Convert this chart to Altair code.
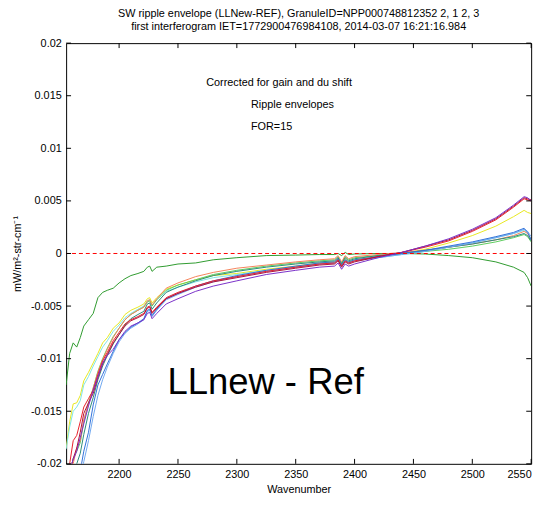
import altair as alt
import pandas as pd

# ---- data ----
WAVENUMBER = [2155, 2158, 2161, 2164, 2167, 2170, 2174, 2178, 2182, 2186,
              2190, 2195, 2200, 2205, 2210, 2216, 2221, 2224, 2226, 2228,
              2232, 2240, 2250, 2265, 2280, 2300, 2325, 2350, 2370, 2383,
              2386, 2389, 2392, 2395, 2400, 2420, 2440, 2460, 2480, 2500,
              2520, 2535, 2544, 2547, 2550]

DARK_GREEN = [-0.0125, -0.0095, -0.0085, -0.0089, -0.0080, -0.0069, -0.0063, -0.0057, -0.0042, -0.0037,
              -0.0035, -0.0033, -0.0028, -0.0024, -0.0021, -0.0019, -0.0017, -0.0013, -0.0012, -0.0017,
              -0.0013, -0.0012, -0.0010, -0.0009, -0.0006, -0.0004, -0.0002, -0.00015, -0.0001, -0.0001,
              0.0000, -0.0002, 0.0001, -0.0001, -0.00005, 0.0000, 0.0000, -0.00005, -0.0002, -0.0004,
              -0.0008, -0.0013, -0.0018, -0.0023, -0.0031]
YELLOW = [-0.0185, -0.0160, -0.0143, -0.0142, -0.0135, -0.0121, -0.0113, -0.0104, -0.0095, -0.0085,
          -0.0080, -0.0071, -0.0066, -0.0058, -0.0054, -0.0051, -0.0048, -0.0043, -0.0042, -0.0047,
          -0.0042, -0.0034, -0.0030, -0.0025, -0.0021, -0.0019, -0.0015, -0.0012, -0.0009, -0.0008,
          -0.0005, -0.0011, -0.0005, -0.0008, -0.0006, -0.0003, 0.0000, 0.0004, 0.0010, 0.0017,
          0.0026, 0.0035, 0.0041, 0.0039, 0.0038]
CYAN = [-0.0186, -0.0165, -0.0150, -0.0146, -0.0140, -0.0125, -0.0117, -0.0107, -0.0098, -0.0089,
        -0.0083, -0.0074, -0.0068, -0.0061, -0.0057, -0.0053, -0.0050, -0.0045, -0.0044, -0.0049,
        -0.0044, -0.0036, -0.0032, -0.0027, -0.0023, -0.0020, -0.0016, -0.0013, -0.0010, -0.0009,
        -0.0006, -0.0012, -0.0006, -0.0009, -0.0007, -0.0004, -0.0001, 0.0002, 0.0006, 0.0010,
        0.0015, 0.0019, 0.0022, 0.0019, 0.0014]
LIGHT_GREEN = [-0.0210, -0.0210, -0.0195, -0.0188, -0.0180, -0.0160, -0.0142, -0.0128, -0.0112, -0.0100,
               -0.0090, -0.0079, -0.0071, -0.0063, -0.0058, -0.0054, -0.0051, -0.0046, -0.0045, -0.0050,
               -0.0044, -0.0035, -0.0030, -0.0025, -0.0020, -0.0016, -0.0012, -0.0009, -0.0007, -0.0006,
               -0.0003, -0.0009, -0.0003, -0.0006, -0.0004, -0.0002, 0.0000, 0.0002, 0.0004, 0.0007,
               0.0011, 0.0015, 0.0018, 0.0016, 0.0011]
ORANGE = [-0.0220, -0.0220, -0.0200, -0.0185, -0.0178, -0.0158, -0.0143, -0.0128, -0.0113, -0.0101,
          -0.0091, -0.0080, -0.0071, -0.0063, -0.0058, -0.0054, -0.0051, -0.0045, -0.0044, -0.0049,
          -0.0043, -0.0033, -0.0028, -0.0022, -0.0018, -0.0014, -0.0011, -0.0008, -0.0006, -0.0005,
          -0.0002, -0.0008, -0.0002, -0.0005, -0.0003, -0.0001, 0.0001, 0.0003, 0.0006, 0.0009,
          0.0013, 0.0017, 0.0021, 0.0019, 0.0013]
RED = [-0.0210, -0.0200, -0.0178, -0.0173, -0.0160, -0.0146, -0.0138, -0.0130, -0.0115, -0.0102,
       -0.0094, -0.0083, -0.0075, -0.0067, -0.0063, -0.0060, -0.0057, -0.0051, -0.0050, -0.0056,
       -0.0051, -0.0042, -0.0037, -0.0031, -0.0026, -0.0022, -0.0017, -0.0013, -0.0010, -0.0009,
       -0.0006, -0.0012, -0.0007, -0.0009, -0.0007, -0.0003, 0.0001, 0.0006, 0.0012, 0.0021,
       0.0032, 0.0044, 0.0052, 0.0051, 0.0050]
DARK_RED = [-0.0220, -0.0210, -0.0195, -0.0185, -0.0170, -0.0152, -0.0142, -0.0133, -0.0118, -0.0105,
            -0.0096, -0.0085, -0.0077, -0.0069, -0.0064, -0.0061, -0.0058, -0.0052, -0.0051, -0.0057,
            -0.0052, -0.0043, -0.0038, -0.0032, -0.0027, -0.0023, -0.0018, -0.0014, -0.0011, -0.0010,
            -0.0007, -0.0013, -0.0008, -0.0010, -0.0008, -0.0003, 0.0001, 0.0007, 0.0013, 0.0022,
            0.0033, 0.0045, 0.0053, 0.0052, 0.0051]
PURPLE = [-0.0220, -0.0205, -0.0196, -0.0188, -0.0175, -0.0162, -0.0145, -0.0130, -0.0117, -0.0104,
          -0.0097, -0.0091, -0.0082, -0.0074, -0.0069, -0.0066, -0.0063, -0.0057, -0.0056, -0.0062,
          -0.0057, -0.0048, -0.0043, -0.0036, -0.0031, -0.0026, -0.0020, -0.0016, -0.0013, -0.0012,
          -0.0009, -0.0015, -0.0010, -0.0012, -0.0010, -0.0004, 0.0001, 0.0007, 0.0014, 0.0023,
          0.0034, 0.0046, 0.0054, 0.0053, 0.0050]
BLUE = [-0.0230, -0.0230, -0.0228, -0.0220, -0.0207, -0.0188, -0.0170, -0.0144, -0.0125, -0.0115,
        -0.0105, -0.0093, -0.0082, -0.0075, -0.0070, -0.0066, -0.0062, -0.0054, -0.0053, -0.0059,
        -0.0053, -0.0043, -0.0038, -0.0031, -0.0026, -0.0021, -0.0016, -0.0012, -0.0009, -0.0008,
        -0.0005, -0.0011, -0.0006, -0.0008, -0.0006, -0.0003, 0.0000, 0.0003, 0.0007, 0.0011,
        0.0016, 0.0020, 0.0024, 0.0020, 0.0013]
LIGHT_BLUE = [-0.0240, -0.0240, -0.0235, -0.0228, -0.0215, -0.0198, -0.0178, -0.0155, -0.0135, -0.0120,
              -0.0108, -0.0095, -0.0084, -0.0076, -0.0071, -0.0067, -0.0063, -0.0055, -0.0054, -0.0060,
              -0.0054, -0.0044, -0.0039, -0.0032, -0.0027, -0.0022, -0.0017, -0.0013, -0.0010, -0.0009,
              -0.0006, -0.0012, -0.0007, -0.0009, -0.0007, -0.0004, -0.0001, 0.0002, 0.0006, 0.0010,
              0.0015, 0.0019, 0.0023, 0.0021, 0.0016]
TEAL = [-0.0230, -0.0225, -0.0212, -0.0200, -0.0190, -0.0172, -0.0152, -0.0137, -0.0120, -0.0107,
        -0.0097, -0.0086, -0.0077, -0.0068, -0.0062, -0.0058, -0.0055, -0.0048, -0.0047, -0.0053,
        -0.0047, -0.0037, -0.0032, -0.0026, -0.0021, -0.0017, -0.0013, -0.0010, -0.0008, -0.0007,
        -0.0004, -0.0010, -0.0004, -0.0007, -0.0005, -0.0002, 0.0000, 0.0003, 0.0006, 0.0009,
        0.0013, 0.0016, 0.0019, 0.0017, 0.0012]

SERIES = {
    "s01": DARK_GREEN, "s02": YELLOW, "s03": CYAN, "s04": LIGHT_GREEN, "s05": ORANGE,
    "s06": TEAL, "s07": LIGHT_BLUE, "s08": BLUE, "s09": RED, "s10": DARK_RED, "s11": PURPLE,
}
COLORS = ["#2e9a2e", "#e8e820", "#7fe5e5", "#5ccc5c", "#f5825a",
          "#2a8a7a", "#70a8f0", "#3070d8", "#e8202a", "#b0103a", "#7a30c8"]

X_TICKS = [2200, 2250, 2300, 2350, 2400, 2450, 2500, 2550]
Y_TICKS = [-0.02, -0.015, -0.01, -0.005, 0, 0.005, 0.01, 0.015, 0.02]
ZERO = [0]

TITLE = ["SW ripple envelope (LLNew-REF), GranuleID=NPP000748812352 2, 1 2, 3",
         "first interferogram IET=1772900476984108, 2014-03-07 16:21:16.984"]

rows = []
for name, vals in SERIES.items():
    assert len(vals) == len(WAVENUMBER), name
    for xv, yv in zip(WAVENUMBER, vals):
        rows.append({"series": name, "x": xv, "y": yv})
df = pd.DataFrame(rows)

W, H = 472, 427
FONT = "Liberation Sans"

xscale = alt.Scale(domain=[2155, 2550], nice=False, zero=False)
yscale = alt.Scale(domain=[-0.02, 0.02], nice=False, zero=False)

lines = alt.Chart(df).mark_line(strokeWidth=1, clip=True).encode(
    x=alt.X("x:Q", scale=xscale,
            axis=alt.Axis(values=X_TICKS, format="d", ticks=False, grid=False, domain=False,
                          title="Wavenumber", labelPadding=5, titlePadding=4)),
    y=alt.Y("y:Q", scale=yscale,
            axis=alt.Axis(values=Y_TICKS, format="~g", ticks=False, grid=False, domain=False,
                          labelExpr="replace(datum.label, '\u2212', '-')",
                          title="mW/m\u00b2-str-cm\u207b\u00b9", labelPadding=5, titlePadding=8)),
    color=alt.Color("series:N", scale=alt.Scale(domain=list(SERIES.keys()), range=COLORS), legend=None),
    detail="series:N",
)

zero_line = alt.Chart(pd.DataFrame({"y": ZERO})).mark_rule(
    color="#ff0000", strokeWidth=1, strokeDash=[4, 3]).encode(y=alt.Y("y:Q", scale=yscale))

xt = pd.DataFrame({"x": X_TICKS})
yt = pd.DataFrame({"y": Y_TICKS})
tick_top = alt.Chart(xt).mark_rule(color="black").encode(
    x=alt.X("x:Q", scale=xscale), y=alt.value(0), y2=alt.value(5))
tick_bot = alt.Chart(xt).mark_rule(color="black").encode(
    x=alt.X("x:Q", scale=xscale), y=alt.value(H - 5), y2=alt.value(H))
tick_left = alt.Chart(yt).mark_rule(color="black").encode(
    y=alt.Y("y:Q", scale=yscale), x=alt.value(0), x2=alt.value(5))
tick_right = alt.Chart(yt).mark_rule(color="black").encode(
    y=alt.Y("y:Q", scale=yscale), x=alt.value(W - 5), x2=alt.value(W))

base_txt = alt.Chart(pd.DataFrame({"a": [0]}))
t1 = base_txt.mark_text(align="left", baseline="middle", fontSize=11, font=FONT, color="black").encode(
    x=alt.datum(2274, scale=xscale), y=alt.datum(0.0162, scale=yscale), text=alt.value("Corrected for gain and du shift"))
t2 = base_txt.mark_text(align="left", baseline="middle", fontSize=11, font=FONT, color="black").encode(
    x=alt.datum(2312, scale=xscale), y=alt.datum(0.01415, scale=yscale), text=alt.value("Ripple envelopes"))
t3 = base_txt.mark_text(align="left", baseline="middle", fontSize=11, font=FONT, color="black").encode(
    x=alt.datum(2312, scale=xscale), y=alt.datum(0.0120, scale=yscale), text=alt.value("FOR=15"))
t4 = base_txt.mark_text(align="left", baseline="middle", fontSize=37, font=FONT, color="black").encode(
    x=alt.datum(2241, scale=xscale), y=alt.datum(-0.0123, scale=yscale), text=alt.value("LLnew - Ref"))

chart = alt.layer(
    lines, zero_line, tick_top, tick_bot, tick_left, tick_right, t1, t2, t3, t4
).properties(
    width=W, height=H,
    title=alt.Title(text=TITLE, fontSize=11, fontWeight="normal", font=FONT, color="black",
                    anchor="middle", offset=5, lineHeight=14),
    autosize=alt.AutoSizeParams(type="none"),
    padding={"left": 59, "top": 32, "right": 11, "bottom": 30},
).configure_view(
    stroke="black", strokeWidth=1
).configure_axis(
    labelFont=FONT, titleFont=FONT, labelFontSize=11, titleFontSize=11,
    labelColor="black", titleColor="black", titleFontWeight="normal",
)

chart.save("out.html", embed_options={"renderer": "svg", "actions": False})
